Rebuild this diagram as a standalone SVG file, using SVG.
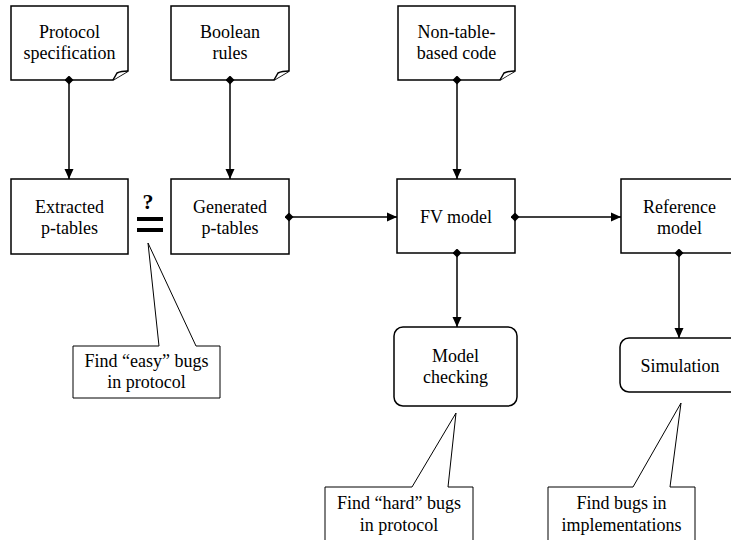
<svg xmlns="http://www.w3.org/2000/svg" width="731" height="540" viewBox="0 0 731 540">
<defs>
<marker id="arrow" viewBox="0 0 10 10" refX="10" refY="5" markerWidth="10" markerHeight="10" markerUnits="userSpaceOnUse" orient="auto">
<path d="M0,0.5 L10,5 L0,9.5 Z" fill="#000"/>
</marker>
<marker id="dia" viewBox="0 0 10 10" refX="5" refY="5" markerWidth="9" markerHeight="9" markerUnits="userSpaceOnUse" orient="auto">
<path d="M0,5 L5,0 L10,5 L5,10 Z" fill="#000"/>
</marker>
<style>
.box{fill:#fff;stroke:#000;stroke-width:1.5}
.call{fill:#fff;stroke:#000;stroke-width:1}
text{font-family:"Times New Roman","Liberation Serif",Tinos,"Noto Serif","DejaVu Serif",FreeSerif,serif;font-size:18px;fill:#000;text-anchor:middle}
.c{fill:none;stroke:#000;stroke-width:1.5;marker-start:url(#dia);marker-end:url(#arrow)}
</style>
</defs>
<rect width="731" height="540" fill="#fff"/>
<g id="protocol-spec">
<path class="box" d="M11,6 H128 V71 L113,80 H11 Z"/>
<path class="box" d="M113,80 L117,73 Q121,71 128,71" fill="none"/>
<text x="69.5" y="38">Protocol</text>
<text x="69.5" y="59">specification</text>
</g>
<g id="boolean-rules">
<path class="box" d="M171,6 H289 V71 L274,80 H171 Z"/>
<path class="box" d="M274,80 L278,73 Q282,71 289,71" fill="none"/>
<text x="230" y="38">Boolean</text>
<text x="230" y="59">rules</text>
</g>
<g id="non-table-code">
<path class="box" d="M398,6 H515 V71 L500,80 H398 Z"/>
<path class="box" d="M500,80 L504,73 Q508,71 515,71" fill="none"/>
<text x="456.5" y="38">Non-table-</text>
<text x="456.5" y="59">based code</text>
</g>
<g id="extracted">
<rect class="box" x="11" y="179" width="117" height="75"/>
<text x="69.5" y="213">Extracted</text>
<text x="69.5" y="234">p-tables</text>
</g>
<g id="equals-q">
<text x="148" y="209" style="font-size:22px;font-weight:bold">?</text>
<rect x="137" y="217" width="26" height="4" fill="#000"/>
<rect x="137" y="228" width="26" height="4" fill="#000"/>
</g>
<g id="generated">
<rect class="box" x="171" y="179" width="118" height="75"/>
<text x="230" y="213">Generated</text>
<text x="230" y="234">p-tables</text>
</g>
<g id="fv-model">
<rect class="box" x="397" y="179" width="118" height="74"/>
<text x="456" y="223">FV model</text>
</g>
<g id="reference-model">
<rect class="box" x="621" y="179" width="116" height="74"/>
<text x="679.5" y="213">Reference</text>
<text x="679.5" y="234">model</text>
</g>
<g id="model-checking">
<rect class="box" x="394" y="327" width="123" height="79" rx="9"/>
<text x="455.5" y="362">Model</text>
<text x="455.5" y="383">checking</text>
</g>
<g id="simulation">
<rect class="box" x="620" y="338" width="122" height="54" rx="9"/>
<text x="680" y="372">Simulation</text>
</g>
<g id="callout-easy">
<path class="call" d="M73,346 H159 L148,243 L196,346 H220 V398 H73 Z"/>
<text x="146.5" y="367">Find “easy” bugs</text>
<text x="146.5" y="388">in protocol</text>
</g>
<g id="callout-hard">
<path class="call" d="M325,487 H412 L456,413 L448,487 H473 V545 H325 Z"/>
<text x="399" y="509">Find “hard” bugs</text>
<text x="399" y="531">in protocol</text>
</g>
<g id="callout-impl">
<path class="call" d="M548,487 H633 L681,403 L670,487 H695 V545 H548 Z"/>
<text x="621.5" y="509">Find bugs in</text>
<text x="621.5" y="531">implementations</text>
</g>
<g id="connectors">
<path class="c" d="M69,80 V179"/>
<path class="c" d="M230,80 V179"/>
<path class="c" d="M457,80 V179"/>
<path class="c" d="M289,217 H397"/>
<path class="c" d="M515,217 H621"/>
<path class="c" d="M457,253 V327"/>
<path class="c" d="M679,253 V338"/>
</g>
</svg>
